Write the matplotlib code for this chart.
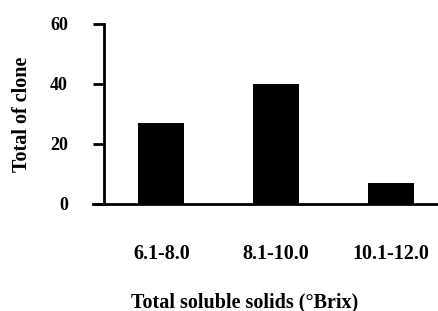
import matplotlib
matplotlib.use("Agg")
import matplotlib.pyplot as plt

categories = ["6.1-8.0", "8.1-10.0", "10.1-12.0"]
clone_counts = [27, 40, 7]
y_ticks = [0, 20, 40, 60]

plt.rcParams['font.family'] = ['Liberation Serif', 'DejaVu Serif']
plt.rcParams['font.weight'] = 'bold'

fig = plt.figure(figsize=(4.39, 3.11), dpi=100)
ax = fig.add_axes([104 / 439, 1 - 204 / 311, 335 / 439, 180 / 311])

x = list(range(len(categories)))
ax.bar(x, clone_counts, width=0.4, color='black')

ax.set_xlim(-0.5, 2.42)
ax.set_ylim(0, 60)
ax.set_yticks(y_ticks)
ax.set_yticklabels([str(t) for t in y_ticks], fontsize=13, fontweight='bold')
ax.set_xticks(x)
ax.set_xticklabels(categories, fontsize=14.5, fontweight='bold')

ax.spines['top'].set_visible(False)
ax.spines['right'].set_visible(False)
ax.spines['left'].set_linewidth(2)
ax.spines['bottom'].set_linewidth(2)
ax.spines['bottom'].set_bounds(-0.6, 2.42)
ax.spines['bottom'].set_clip_on(False)

ax.tick_params(axis='y', direction='out', length=8, width=2, pad=18)
ax.tick_params(axis='x', length=0, pad=29)

ax.set_xlabel("Total soluble solids (°Brix)", fontsize=14.5, fontweight='bold')
ax.xaxis.set_label_coords(0.42, -0.49)
ax.set_ylabel("Total of clone", fontsize=14.5, fontweight='bold', labelpad=13)

fig.savefig("out.png", dpi=100)
